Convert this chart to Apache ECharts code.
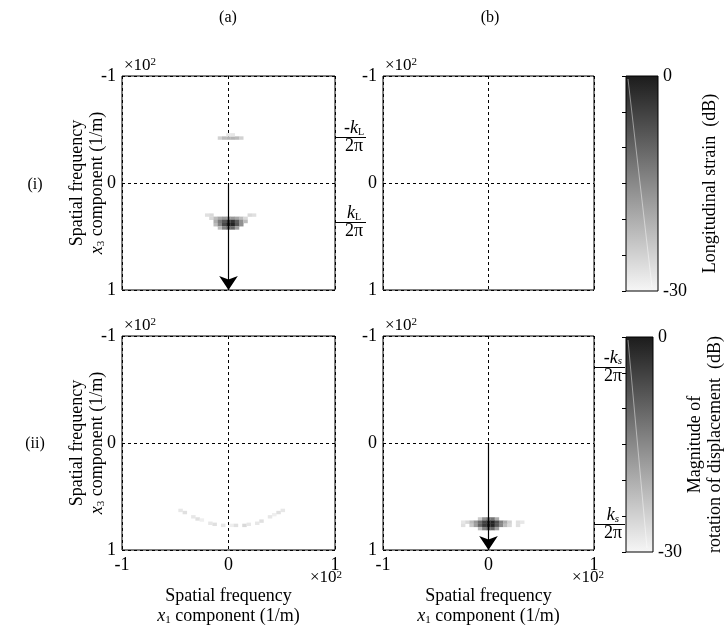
<!DOCTYPE html>
<html>
<head>
<meta charset="utf-8">
<script src="https://cdn.jsdelivr.net/npm/echarts@6/dist/echarts.min.js"></script>
<style>
html, body { margin: 0; padding: 0; background: #fff; }
#chart { width: 726px; height: 628px; }
</style>
</head>
<body>
<div id="chart"></div>
<script>
// spatial frequency axes, both in units of 1e2 1/m
var KL_TICKS = [-0.43, 0.37];   // -kL/2pi, kL/2pi on panel (i)(a)
var KS_TICKS = [-0.71, 0.76];   // -ks/2pi, ks/2pi on panel (ii)(b)
var DB_MIN = -30, DB_MAX = 0;
var colorbarRange = [[DB_MIN, DB_MAX]];

// [x1, x3, dB] cells
var cellsIaUpper = [
    [-0.08, -0.42, -25], [-0.04, -0.42, -22], [0, -0.42, -21], [0.04, -0.42, -21],
    [0.08, -0.42, -22], [0.12, -0.42, -25], [0, -0.45, -28], [0.04, -0.45, -28]
];
var cellsIaLower = [
    [-0.20, 0.30, -27], [-0.16, 0.30, -26], [0.20, 0.30, -26], [0.24, 0.30, -27],
    [-0.16, 0.33, -26], [-0.12, 0.33, -22], [-0.08, 0.33, -19], [-0.04, 0.33, -17],
    [0, 0.33, -16], [0.04, 0.33, -17], [0.08, 0.33, -19], [0.12, 0.33, -22], [0.16, 0.33, -26],
    [-0.12, 0.36, -20], [-0.08, 0.36, -13], [-0.04, 0.36, -8], [0, 0.36, -3],
    [0.04, 0.36, -3], [0.08, 0.36, -9], [0.12, 0.36, -16], [0.16, 0.36, -22],
    [-0.12, 0.39, -22], [-0.08, 0.39, -14], [-0.04, 0.39, -6], [0, 0.39, 0],
    [0.04, 0.39, -1], [0.08, 0.39, -8], [0.12, 0.39, -16],
    [-0.08, 0.42, -22], [-0.04, 0.42, -14], [0, 0.42, -9], [0.04, 0.42, -10], [0.08, 0.42, -18]
];
var cellsIIaArc = [
    [-0.45, 0.63, -28], [-0.41, 0.65, -27], [-0.33, 0.69, -28],
    [-0.29, 0.71, -27], [-0.25, 0.72, -29], [-0.17, 0.75, -28],
    [-0.13, 0.76, -27], [-0.05, 0.77, -28], [0.03, 0.77, -29],
    [0.07, 0.77, -27], [0.15, 0.77, -26], [0.19, 0.76, -28],
    [0.27, 0.75, -28], [0.31, 0.73, -27], [0.39, 0.69, -28],
    [0.43, 0.67, -29], [0.47, 0.65, -27], [0.51, 0.63, -28]
];
var cellsIIbSpot = [
    [-0.08, 0.71, -24], [-0.04, 0.71, -16], [0, 0.71, -11], [0.04, 0.71, -12], [0.08, 0.71, -20],
    [-0.24, 0.74, -28], [-0.20, 0.74, -26], [-0.16, 0.74, -22], [-0.12, 0.74, -17],
    [-0.08, 0.74, -11], [-0.04, 0.74, -5], [0, 0.74, -1], [0.04, 0.74, -1], [0.08, 0.74, -7],
    [0.12, 0.74, -14], [0.16, 0.74, -20], [0.20, 0.74, -25], [0.28, 0.74, -27], [0.32, 0.74, -28],
    [-0.24, 0.77, -27], [-0.16, 0.77, -24], [-0.12, 0.77, -18], [-0.08, 0.77, -10],
    [-0.04, 0.77, -4], [0, 0.77, 0], [0.04, 0.77, -1], [0.08, 0.77, -8], [0.12, 0.77, -15],
    [0.16, 0.77, -22], [0.20, 0.77, -26], [0.28, 0.77, -27],
    [-0.08, 0.80, -22], [-0.04, 0.80, -14], [0, 0.80, -9], [0.04, 0.80, -10], [0.08, 0.80, -18]
];
var arrowIa = [[0, 0], [0, 1]];
var arrowIIb = [[0, 0], [0, 1]];

var FONT = 'Liberation Serif';
var CELL_W = 0.042, CELL_H = 0.032;
var GRAY = ['#f6f6f6', '#1c1c1c'];

var chart = echarts.init(document.getElementById('chart'));

var nameRich = {
    i: { fontFamily: FONT, fontSize: 18, fontStyle: 'italic', color: '#000', lineHeight: 20 },
    s: { fontFamily: FONT, fontSize: 11, color: '#000', verticalAlign: 'bottom', lineHeight: 20 }
};
var fracRich = {
    t: { fontFamily: FONT, fontSize: 18, color: '#000', lineHeight: 18 },
    k: { fontFamily: FONT, fontSize: 18, fontStyle: 'italic', color: '#000', lineHeight: 18 },
    L: { fontFamily: FONT, fontSize: 10, color: '#000', verticalAlign: 'bottom', lineHeight: 18 },
    s: { fontFamily: FONT, fontSize: 11, fontStyle: 'italic', color: '#000', verticalAlign: 'bottom', lineHeight: 18 }
};

function panelX(gi, withLabels) {
    return {
        type: 'value', gridIndex: gi, min: -1, max: 1, interval: 1,
        axisLine: { show: false }, axisTick: { show: false },
        splitLine: { show: true, lineStyle: { color: '#000', width: 1, type: [3, 3] } },
        axisLabel: {
            show: withLabels, fontFamily: FONT, fontSize: 18, color: '#000', margin: 6,
            showMinLabel: true, showMaxLabel: true
        },
        name: withLabels ? 'Spatial frequency\n{i|x}{s|1} component (1/m)' : '',
        nameLocation: 'middle', nameGap: 36, nameMoveOverlap: false,
        nameTextStyle: { fontFamily: FONT, fontSize: 18, color: '#000', lineHeight: 20, rich: nameRich }
    };
}

function panelY(gi, withName) {
    return {
        type: 'value', gridIndex: gi, inverse: true, min: -1, max: 1, interval: 1,
        axisLine: { show: false }, axisTick: { show: false },
        splitLine: { show: true, lineStyle: { color: '#000', width: 1, type: [3, 3] } },
        axisLabel: { fontFamily: FONT, fontSize: 18, color: '#000', margin: 6 },
        name: withName ? 'Spatial frequency\n{i|x}{s|3} component (1/m)' : '',
        nameLocation: 'middle', nameRotate: 90, nameGap: 15, nameMoveOverlap: false,
        nameTextStyle: { fontFamily: FONT, fontSize: 18, color: '#000', lineHeight: 20, rich: nameRich }
    };
}

function fracAxis(gi, ticks, sym) {
    return {
        type: 'value', gridIndex: gi, position: 'right', inverse: true, min: -1, max: 1,
        axisLine: { show: false },
        splitLine: { show: false },
        axisTick: { show: true, customValues: ticks, length: 31, lineStyle: { color: '#000', width: 1 } },
        axisLabel: {
            customValues: ticks, margin: 19, align: 'center',
            formatter: function (v) {
                var top = '{k|k}{' + sym + '|' + (sym === 'L' ? 'L' : 's') + '}';
                if (v < 0) top = '{t|-}' + top;
                return top + '\n{t|2π}';
            },
            rich: fracRich
        }
    };
}

function barAxis(gi, name, gap) {
    return {
        type: 'value', gridIndex: gi, position: 'right', min: DB_MIN, max: DB_MAX, interval: 5, z: 6,
        axisLine: { show: false },
        splitLine: { show: false },
        axisTick: { show: true, inside: true, length: 4, lineStyle: { color: '#000' } },
        axisLabel: { customValues: [DB_MIN, DB_MAX], fontFamily: FONT, fontSize: 18, color: '#000', margin: 5 },
        name: name, nameLocation: 'middle', nameRotate: 90, nameGap: gap, nameMoveOverlap: false,
        nameTextStyle: { fontFamily: FONT, fontSize: 18, color: '#000', lineHeight: 20 }
    };
}

function renderCell(params, api) {
    var x = api.value(0), y = api.value(1);
    var p0 = api.coord([x - CELL_W / 2, y - CELL_H / 2]);
    var p1 = api.coord([x + CELL_W / 2, y + CELL_H / 2]);
    return {
        type: 'rect',
        shape: {
            x: Math.min(p0[0], p1[0]), y: Math.min(p0[1], p1[1]),
            width: Math.abs(p1[0] - p0[0]), height: Math.abs(p1[1] - p0[1])
        },
        style: { fill: api.visual('color') }
    };
}

// colour bar: one rect spanning the dB range, filled with the same grey ramp
function renderBar(params, api) {
    var pTop = api.coord([0, api.value(1)]);
    var pBot = api.coord([1, api.value(0)]);
    return {
        type: 'group',
        children: [{
            type: 'rect',
            shape: { x: pTop[0], y: pTop[1], width: pBot[0] - pTop[0], height: pBot[1] - pTop[1] },
            style: {
                fill: new echarts.graphic.LinearGradient(0, 0, 0, 1, [
                    { offset: 0, color: GRAY[1] }, { offset: 1, color: GRAY[0] }
                ])
            }
        }, {
            // faint light streak seen across the printed colour bars
            type: 'line',
            shape: { x1: pTop[0] + 2, y1: pTop[1] + 3, x2: pBot[0] - 6, y2: pBot[1] - 4 },
            style: { stroke: 'rgba(255,255,255,0.45)', lineWidth: 1 }
        }]
    };
}

function cellSeries(xi, yi, data) {
    return {
        type: 'custom', xAxisIndex: xi, yAxisIndex: yi, renderItem: renderCell,
        encode: { x: 0, y: 1 }, data: data, z: 2, silent: true, clip: true
    };
}

function barSeries(xi, yi) {
    return {
        type: 'custom', xAxisIndex: xi, yAxisIndex: yi, renderItem: renderBar,
        encode: { y: [0, 1] }, data: colorbarRange, z: 2, silent: true
    };
}

function arrowSeries(xi, yi, coords) {
    return {
        type: 'lines', coordinateSystem: 'cartesian2d', xAxisIndex: xi, yAxisIndex: yi,
        data: [{ coords: coords }], symbol: ['none', 'arrow'], symbolSize: 14,
        lineStyle: { color: '#000', width: 1.2, opacity: 1 }, z: 3, silent: true
    };
}

function txt(x, y, text, opts) {
    var style = { text: text, x: x, y: y, fill: '#000', font: (opts && opts.font) || ('16px ' + FONT),
        align: (opts && opts.align) || 'center', verticalAlign: (opts && opts.va) || 'middle' };
    if (opts && opts.rich) style.rich = opts.rich;
    return { type: 'text', style: style, z: 10 };
}

var powRich = {
    a: { fontFamily: FONT, fontSize: 17, color: '#000' },
    b: { fontFamily: FONT, fontSize: 11, color: '#000', verticalAlign: 'top', padding: [0, 0, 6, 0] }
};

var option = {
    backgroundColor: '#fff',
    animation: false,
    grid: [
        { left: 122, top: 76, width: 213, height: 214, show: true, borderColor: '#000', borderWidth: 1 },
        { left: 383, top: 76, width: 211, height: 214, show: true, borderColor: '#000', borderWidth: 1 },
        { left: 122, top: 336, width: 213, height: 214, show: true, borderColor: '#000', borderWidth: 1 },
        { left: 383, top: 336, width: 211, height: 214, show: true, borderColor: '#000', borderWidth: 1 },
        { left: 626, top: 76, width: 32, height: 215, show: true, borderColor: '#000', borderWidth: 1, z: 5 },
        { left: 626, top: 337, width: 32, height: 215, show: true, borderColor: '#000', borderWidth: 1, z: 5 }
    ],
    xAxis: [
        panelX(0, false), panelX(1, false), panelX(2, true), panelX(3, true),
        { type: 'value', gridIndex: 4, show: false, min: 0, max: 1 },
        { type: 'value', gridIndex: 5, show: false, min: 0, max: 1 }
    ],
    yAxis: [
        panelY(0, true), panelY(1, false), panelY(2, true), panelY(3, false),
        fracAxis(0, KL_TICKS, 'L'), fracAxis(3, KS_TICKS, 's'),
        barAxis(4, 'Longitudinal strain  (dB)', 42),
        barAxis(5, 'Magnitude of\nrotation of displacement  (dB)', 32)
    ],
    visualMap: [
        {
            type: 'continuous', show: false, seriesIndex: [0, 1, 2, 3], dimension: 2,
            min: DB_MIN, max: DB_MAX, inRange: { color: GRAY }
        }
    ],
    series: [
        cellSeries(0, 0, cellsIaUpper),
        cellSeries(0, 0, cellsIaLower),
        cellSeries(2, 2, cellsIIaArc),
        cellSeries(3, 3, cellsIIbSpot),
        arrowSeries(0, 0, arrowIa),
        arrowSeries(3, 3, arrowIIb),
        barSeries(4, 6),
        barSeries(5, 7)
    ],
    graphic: [
        txt(228, 18, '(a)'), txt(490, 18, '(b)'),
        txt(35, 185, '(i)'), txt(35, 444, '(ii)'),
        txt(124, 74, '{a|×10}{b|2}', { align: 'left', va: 'bottom', rich: powRich }),
        txt(385, 74, '{a|×10}{b|2}', { align: 'left', va: 'bottom', rich: powRich }),
        txt(124, 334, '{a|×10}{b|2}', { align: 'left', va: 'bottom', rich: powRich }),
        txt(385, 334, '{a|×10}{b|2}', { align: 'left', va: 'bottom', rich: powRich }),
        txt(342, 578, '{a|×10}{b|2}', { align: 'right', va: 'middle', rich: powRich }),
        txt(604, 578, '{a|×10}{b|2}', { align: 'right', va: 'middle', rich: powRich })
    ]
};

chart.setOption(option);
</script>
</body>
</html>
